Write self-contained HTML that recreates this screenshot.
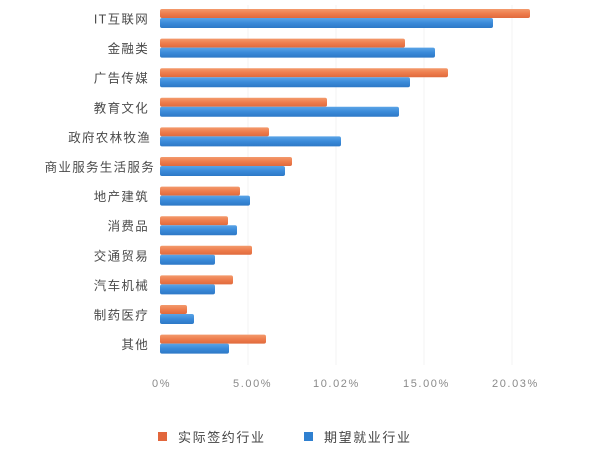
<!DOCTYPE html>
<html><head><meta charset="utf-8">
<style>
html,body{margin:0;padding:0;background:#fff;}
svg{display:block;}
.lab{font-family:"Liberation Sans","Noto Sans CJK SC",sans-serif;font-size:12.5px;fill:#4a4a4a;letter-spacing:1.3px;}
.tick{font-family:"Liberation Sans","Noto Sans CJK SC",sans-serif;font-size:11px;fill:#8a8a8a;letter-spacing:1.6px;}
.leg{font-family:"Liberation Sans","Noto Sans CJK SC",sans-serif;font-size:13px;fill:#444;letter-spacing:1.6px;}
</style></head>
<body>
<svg width="600" height="459" viewBox="0 0 600 459" xmlns="http://www.w3.org/2000/svg">
<defs>
<linearGradient id="o" x1="0" y1="0" x2="0" y2="1">
<stop offset="0" stop-color="#f39a6c"/><stop offset="0.5" stop-color="#ee7d4d"/><stop offset="1" stop-color="#e06a3c"/>
</linearGradient>
<linearGradient id="b" x1="0" y1="0" x2="0" y2="1">
<stop offset="0" stop-color="#5aa4e6"/><stop offset="0.5" stop-color="#3a8ad9"/><stop offset="1" stop-color="#2d78c6"/>
</linearGradient>
</defs>
<rect width="600" height="459" fill="#fff"/>
<g stroke="#f3f3f3" stroke-width="1">
<line x1="248" y1="5" x2="248" y2="365"/>
<line x1="336" y1="5" x2="336" y2="365"/>
<line x1="424" y1="5" x2="424" y2="365"/>
<line x1="512" y1="5" x2="512" y2="365"/>
</g>
<!-- bars: orange top = 9 + i*29.6 -->
<g>
<rect x="160" y="9" width="370" height="9" rx="2" fill="url(#o)"/>
<rect x="160" y="18" width="333" height="10" rx="2" fill="url(#b)"/>

<rect x="160" y="38.6" width="245" height="9" rx="2" fill="url(#o)"/>
<rect x="160" y="47.6" width="275" height="10" rx="2" fill="url(#b)"/>

<rect x="160" y="68.2" width="288" height="9" rx="2" fill="url(#o)"/>
<rect x="160" y="77.2" width="250" height="10" rx="2" fill="url(#b)"/>

<rect x="160" y="97.8" width="167" height="9" rx="2" fill="url(#o)"/>
<rect x="160" y="106.8" width="239" height="10" rx="2" fill="url(#b)"/>

<rect x="160" y="127.4" width="109" height="9" rx="2" fill="url(#o)"/>
<rect x="160" y="136.4" width="181" height="10" rx="2" fill="url(#b)"/>

<rect x="160" y="157" width="132" height="9" rx="2" fill="url(#o)"/>
<rect x="160" y="166" width="125" height="10" rx="2" fill="url(#b)"/>

<rect x="160" y="186.6" width="80" height="9" rx="2" fill="url(#o)"/>
<rect x="160" y="195.6" width="90" height="10" rx="2" fill="url(#b)"/>

<rect x="160" y="216.2" width="68" height="9" rx="2" fill="url(#o)"/>
<rect x="160" y="225.2" width="77" height="10" rx="2" fill="url(#b)"/>

<rect x="160" y="245.8" width="92" height="9" rx="2" fill="url(#o)"/>
<rect x="160" y="254.8" width="55" height="10" rx="2" fill="url(#b)"/>

<rect x="160" y="275.4" width="73" height="9" rx="2" fill="url(#o)"/>
<rect x="160" y="284.4" width="55" height="10" rx="2" fill="url(#b)"/>

<rect x="160" y="305" width="27" height="9" rx="2" fill="url(#o)"/>
<rect x="160" y="314" width="34" height="10" rx="2" fill="url(#b)"/>

<rect x="160" y="334.6" width="106" height="9" rx="2" fill="url(#o)"/>
<rect x="160" y="343.6" width="69" height="10" rx="2" fill="url(#b)"/>
</g>
<g class="lab" text-anchor="end">
<text x="149" y="23.5">IT互联网</text>
<text x="149" y="53.1">金融类</text>
<text x="149" y="82.7">广告传媒</text>
<text x="149" y="112.3">教育文化</text>
<text x="151" y="141.9">政府农林牧渔</text>
<text x="155" y="171.5">商业服务生活服务</text>
<text x="149" y="201.1">地产建筑</text>
<text x="149" y="230.7">消费品</text>
<text x="149" y="260.3">交通贸易</text>
<text x="149" y="289.9">汽车机械</text>
<text x="149" y="319.5">制药医疗</text>
<text x="149" y="349.1">其他</text>
</g>
<g class="tick">
<text x="152" y="387">0%</text>
<text x="233" y="387">5.00%</text>
<text x="313" y="387">10.02%</text>
<text x="403" y="387">15.00%</text>
<text x="492" y="387">20.03%</text>
</g>
<rect x="158" y="432" width="9" height="9" fill="#e2663c"/>
<text class="leg" x="178" y="442">实际签约行业</text>
<rect x="304" y="432" width="9" height="9" fill="#2f80d0"/>
<text class="leg" x="324" y="442">期望就业行业</text>
</svg>
</body></html>
